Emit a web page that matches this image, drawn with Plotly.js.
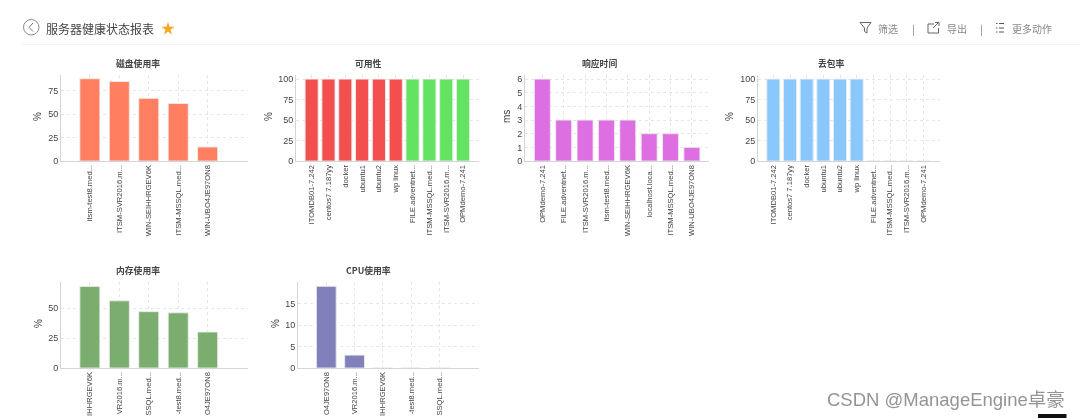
<!DOCTYPE html>
<html>
<head>
<meta charset="utf-8">
<script src="https://cdn.plot.ly/plotly-3.0.1.min.js"></script>
<style>
html,body{margin:0;padding:0;background:#fff;overflow:hidden}
#chart{width:1080px;height:418px;filter:blur(0.6px)}
</style>
</head>
<body>
<div id="chart"></div>
<script>
var W = 1080, H = 418;

var diskLabels = ["itsm-test8.med...", "ITSM-SVR2016.m...", "WIN-SEIHHRGEV6K", "ITSM-MSSQL.med...", "WIN-UBO4JE97ON8"];
var diskValues = [88, 85, 67, 61.5, 15];

var availLabels = ["ITOMDB01-7.242", "centos7 7.187yy", "docker", "ubuntu1", "ubuntu2", "wp linux", "FILE.adventnet...", "ITSM-MSSQL.med...", "ITSM-SVR2016.m...", "OPMdemo-7.241"];
var availValues = [100, 100, 100, 100, 100, 100, 100, 100, 100, 100];
var availColors = ["#f44f4f", "#f44f4f", "#f44f4f", "#f44f4f", "#f44f4f", "#f44f4f", "#62e462", "#62e462", "#62e462", "#62e462"];

var respLabels = ["OPMdemo-7.241", "FILE.adventnet...", "ITSM-SVR2016.m...", "itsm-test8.med...", "WIN-SEIHHRGEV6K", "localhost.loca...", "ITSM-MSSQL.med...", "WIN-UBO4JE97ON8"];
var respValues = [6, 3, 3, 3, 3, 2, 2, 1];

var lossLabels = ["ITOMDB01-7.242", "centos7 7.187yy", "docker", "ubuntu1", "ubuntu2", "wp linux", "FILE.adventnet...", "ITSM-MSSQL.med...", "ITSM-SVR2016.m...", "OPMdemo-7.241"];
var lossValues = [100, 100, 100, 100, 100, 100, 0, 0, 0, 0];

var memLabels = ["IHHRGEV6K", "VR2016.m...", "SSQL.med...", "-test8.med...", "O4JE97ON8"];
var memValues = [68, 56, 47, 46, 30];

var cpuLabels = ["O4JE97ON8", "VR2016.m...", "IHHRGEV6K", "-test8.med...", "SSQL.med..."];
var cpuValues = [19, 3, 0, 0, 0];

var panels = [
  {title:"磁盘使用率", x:diskLabels, y:diskValues, color:"#ff7f60", unit:"%", box:[61,248,75,161], xr:[-0.98,5.37], yr:[0,92], tv:[0,25,50,75], gap:0.32, tx:138, ty:64, ux:38, uy:117},
  {title:"可用性", x:availLabels, y:availValues, color:availColors, unit:"%", box:[296,479,75,161], xr:[-0.93,9.95], yr:[0,105], tv:[0,25,50,75,100], gap:0.22, tx:368, ty:64, ux:269, uy:117},
  {title:"响应时间", x:respLabels, y:respValues, color:"#dd6fe3", unit:"ms", box:[525,709,75,161], xr:[-0.81,7.8], yr:[0,6.3], tv:[0,1,2,3,4,5,6], gap:0.25, tx:599, ty:64, ux:507, uy:117},
  {title:"丢包率", x:lossLabels, y:lossValues, color:"#88c8ff", unit:"%", box:[758,940,75,161], xr:[-0.92,10], yr:[0,105], tv:[0,25,50,75,100], gap:0.22, tx:831, ty:64, ux:730, uy:117},
  {title:"内存使用率", x:memLabels, y:memValues, color:"#7bae6e", unit:"%", box:[61,248,282,368], xr:[-0.98,5.37], yr:[0,71.7], tv:[0,25,50], gap:0.32, tx:138, ty:271, ux:38, uy:324},
  {title:"CPU使用率", x:cpuLabels, y:cpuValues, color:"#8080ba", unit:"%", box:[298,479,282,368], xr:[-1,5.4], yr:[0,20], tv:[0,5,10,15], gap:0.3, tx:368, ty:271, ux:275, uy:324}
];

function px(x){return x/W;}
function py(y){return 1-y/H;}
function pathOf(points){
  return points.map(function(c){
    return c.length===1 ? c[0] : c[0]+px(c[1])+" "+py(c[2]);
  }).join(" ");
}

var data = [], annotations = [], shapes = [];
var layout = {
  width:W, height:H, margin:{l:0,r:0,t:0,b:0},
  paper_bgcolor:"#fff", plot_bgcolor:"#fff", showlegend:false,
  font:{family:"Liberation Sans, Arial, sans-serif", color:"#444", size:9}
};

function note(text,x,y,size,color,opts){
  var a = {text:text, x:px(x), y:py(y), xref:"paper", yref:"paper", showarrow:false,
           xanchor:"center", yanchor:"middle", font:{size:size, color:color, family:"Noto Sans CJK SC, sans-serif"}};
  for (var k in (opts||{})) a[k]=opts[k];
  annotations.push(a);
}

panels.forEach(function(p,i){
  var n = i===0 ? "" : String(i+1);
  data.push({type:"bar", x:p.x, y:p.y, xaxis:"x"+n, yaxis:"y"+n,
    marker:{color:p.color, line:{color:"rgba(235,235,235,0.9)", width:1}},
    hoverinfo:"x+y"});
  layout["xaxis"+n] = {
    domain:[px(p.box[0]),px(p.box[1])], anchor:"y"+n, type:"category", range:p.xr,
    categoryorder:"array", categoryarray:p.x, dtick:1, tickangle:-90, ticks:"", ticklabelstandoff:0,
    showgrid:true, gridcolor:"#e6e6e6", griddash:"dot", gridwidth:1,
    showline:true, linecolor:"#d4d4d4", linewidth:1, zeroline:false,
    tickfont:{size:7.6, color:"#444", family:"Liberation Sans, Arial, sans-serif"}, fixedrange:true
  };
  layout["yaxis"+n] = {
    domain:[py(p.box[3]),py(p.box[2])], anchor:"x"+n, range:p.yr, tickmode:"array", tickvals:p.tv,
    ticktext:p.tv.map(String), ticks:"", showgrid:true, gridcolor:"#e6e6e6", griddash:"dot", gridwidth:1,
    showline:true, linecolor:"#d4d4d4", linewidth:1, zeroline:false,
    tickfont:{size:9, color:"#444", family:"Liberation Sans, Arial, sans-serif"}, fixedrange:true
  };
  note("<b>"+p.title+"</b>", p.tx, p.ty-0.6, 8.8, "#444");
  note(p.unit, p.ux, p.uy, 10, "#444", {textangle:-90, font:{size:10, color:"#444", family:"Liberation Sans, Arial, sans-serif"}});
});
layout.bargap = 0.3;
data.forEach(function(t,i){ t.width = 1-panels[i].gap; });

/* page header */
note("服务器健康状态报表", 99.5, 28, 12, "#444");
note("★", 168, 27.5, 14, "#f5a623");
note("筛选", 888, 28, 10, "#888");
note("|", 913, 28, 10, "#777");
note("导出", 957, 28, 10, "#888");
note("|", 981, 28, 10, "#777");
note("更多动作", 1032, 28, 10, "#888");
note("CSDN @ManageEngine卓豪", 945.5, 399, 18.5, "#949494", {font:{size:18.5, color:"#949494", family:"Liberation Sans, Noto Sans CJK SC, sans-serif"}});

function line(x0,y0,x1,y1,color,w){
  shapes.push({type:"line", xref:"paper", yref:"paper", x0:px(x0), y0:py(y0), x1:px(x1), y1:py(y1), line:{color:color,width:w}});
}
function poly(points,color,w){
  shapes.push({type:"path", xref:"paper", yref:"paper", path:pathOf(points), line:{color:color,width:w}});
}
line(22,44.5,1080,44.5,"#f3f3f3",1);
shapes.push({type:"circle", xref:"paper", yref:"paper", x0:px(23.5), x1:px(39), y0:py(35), y1:py(19.5), line:{color:"#8a8a8a",width:1}});
poly([["M",33,23],["L",29,27.3],["L",33,31.5]],"#777",1);
poly([["M",860,22.5],["L",871,22.5],["L",867,28],["L",867,33],["L",864.5,31.5],["L",864.5,28],["Z"]],"#666",1);
poly([["M",934,24],["L",928,24],["L",928,33],["L",938.5,33],["L",938.5,28]],"#666",1);
poly([["M",933,28],["L",938,23],["M",935,22.5],["L",939,22.5],["L",939,26]],"#666",1);
[23.5,28,32].forEach(function(y){
  line(996,y,997.5,y,"#555",1);
  line(999,y,1004,y,"#555",1);
});
shapes.push({type:"rect", xref:"paper", yref:"paper", x0:px(1038), x1:px(1066.5), y0:py(418), y1:py(414), fillcolor:"#111", line:{width:0}});

layout.annotations = annotations;
layout.shapes = shapes;
Plotly.newPlot("chart", data, layout, {displayModeBar:false, staticPlot:true});
</script>
</body>
</html>
